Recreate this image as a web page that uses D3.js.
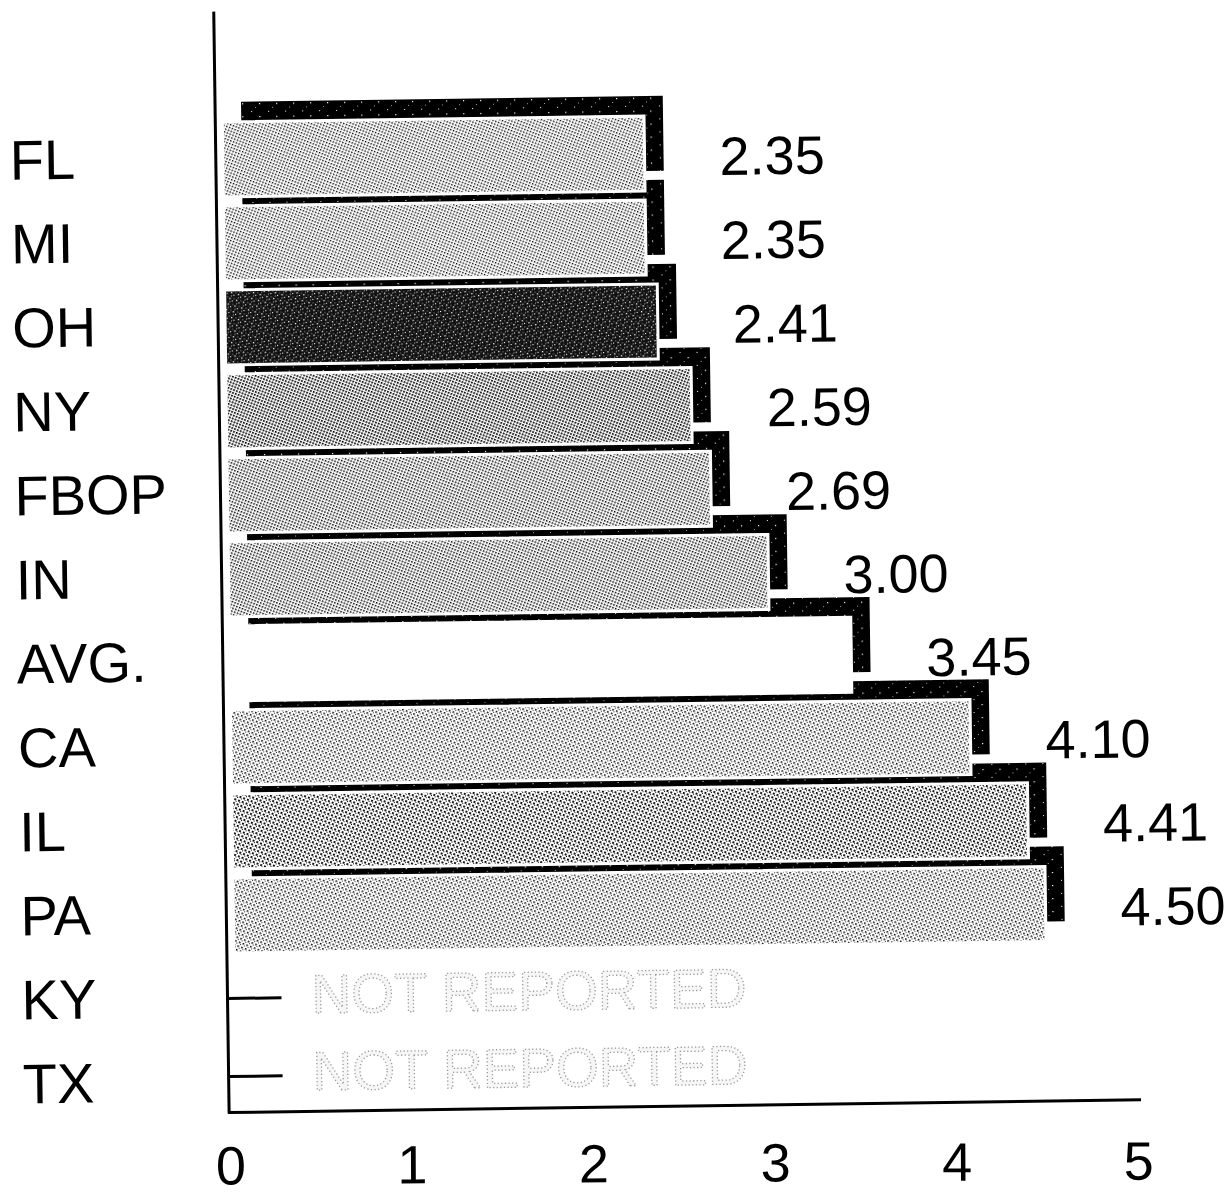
<!DOCTYPE html>
<html><head><meta charset="utf-8">
<script src="https://cdn.jsdelivr.net/npm/d3@7/dist/d3.min.js"></script>
<style>body{margin:0;background:#fff;overflow:hidden}</style>
</head><body><div id="chart"></div>
<script>
// ---- data ----
const categories = ["FL","MI","OH","NY","FBOP","IN","AVG.","CA","IL","PA","KY","TX"];
const values = [2.35, 2.35, 2.41, 2.59, 2.69, 3.00, 3.45, 4.10, 4.41, 4.50, null, null];
const valueLabels = ["2.35","2.35","2.41","2.59","2.69","3.00","3.45","4.10","4.41","4.50", null, null];
const tickValues = [0, 1, 2, 3, 4, 5];
const missingText = "NOT REPORTED";

// ---- styling (not data) ----
const shadeOf = {"FL":"light","MI":"light","OH":"dark","NY":"mid","FBOP":"lightmid","IN":"lightmid",
                 "AVG.":"white","CA":"coarse","IL":"midcoarse","PA":"coarse"};
const FONT = "'Liberation Sans', Arial, Helvetica, sans-serif";

const W = 1230, H = 1198;
const svg = d3.select("#chart").append("svg").attr("width", W).attr("height", H);
const defs = svg.append("defs");

function dotPattern(id, size, dot, angle, bg, fg, extra) {
  const p = defs.append("pattern").attr("id", id).attr("patternUnits", "userSpaceOnUse")
    .attr("width", size).attr("height", size).attr("patternTransform", `rotate(${angle})`);
  p.append("rect").attr("width", size).attr("height", size).attr("fill", bg);
  p.append("rect").attr("x", 0).attr("y", 0).attr("width", dot).attr("height", dot).attr("fill", fg);
  if (extra) p.append("rect").attr("x", size/2).attr("y", size/2).attr("width", extra).attr("height", extra).attr("fill", fg);
}
dotPattern("p-light", 3, 1.45, 22, "#fff", "#000");
dotPattern("p-lightmid", 3, 1.55, 22, "#fff", "#000");
dotPattern("p-mid", 3, 1.75, 22, "#fff", "#000");
dotPattern("p-coarse", 4, 1.6, 22, "#fff", "#000", 0.9);
dotPattern("p-midcoarse", 4, 1.9, 22, "#fff", "#000", 1.0);
// dark speckled
(function(){
  const p = defs.append("pattern").attr("id", "p-dark").attr("patternUnits", "userSpaceOnUse")
    .attr("width", 7).attr("height", 6).attr("patternTransform", "rotate(17)");
  p.append("rect").attr("width", 7).attr("height", 6).attr("fill", "#111");
  [[1,1,1.3],[4,3,1.1],[2,4.5,0.9],[5.5,0.5,0.8]].forEach(d =>
    p.append("rect").attr("x", d[0]).attr("y", d[1]).attr("width", d[2]).attr("height", d[2]).attr("fill", "#fff"));
})();
// shadow: black with sparse white specks
(function(){
  const p = defs.append("pattern").attr("id", "p-shadow").attr("patternUnits", "userSpaceOnUse")
    .attr("width", 17).attr("height", 13);
  p.append("rect").attr("width", 17).attr("height", 13).attr("fill", "#000");
  [[3,2,1],[11,7,1.2],[7,11,0.8]].forEach(d =>
    p.append("rect").attr("x", d[0]).attr("y", d[1]).attr("width", d[2]).attr("height", d[2]).attr("fill", "#fff"));
})();

const fillOf = c => shadeOf[c] === "white" ? "#fff" : `url(#p-${shadeOf[c]})`;

// whole chart slightly rotated like the scanned original
const g = svg.append("g").attr("transform", "rotate(-0.8 620 600)");

const x = d3.scaleLinear().domain([0, 5]).range([224, 1132]);
const y = d3.scaleBand().domain(categories).range([112, 1120]).padding(0);
const barH = 75, barX0 = 229, shX = 19, shY = -20;

const rows = categories.map((c, i) => ({c, v: values[i], label: valueLabels[i]}));
const barRows = rows.filter(d => d.v != null).reverse();   // draw bottom-up so upper bars overlap lower shadows

const barG = g.append("g").selectAll("g").data(barRows).join("g");
barG.append("rect")
  .attr("x", barX0 + shX)
  .attr("y", d => y(d.c) + (y.bandwidth() - barH) / 2 + shY)
  .attr("width", d => x(d.v) - barX0)
  .attr("height", barH)
  .attr("fill", "url(#p-shadow)");
barG.append("rect")
  .attr("x", barX0)
  .attr("y", d => y(d.c) + (y.bandwidth() - barH) / 2)
  .attr("width", d => x(d.v) - barX0)
  .attr("height", barH)
  .attr("fill", d => fillOf(d.c))
  .attr("stroke", "#fff").attr("stroke-width", 3);

// value labels
g.append("g").selectAll("text").data(rows.filter(d => d.v != null)).join("text")
  .attr("x", d => x(d.v) + 75)
  .attr("y", d => y(d.c) + y.bandwidth() / 2 + 3)
  .attr("dy", "0.36em")
  .attr("font-family", FONT).attr("font-size", 54).attr("fill", "#000")
  .text(d => d.label);

// not reported rows
const miss = rows.filter(d => d.v == null);
g.append("g").selectAll("line").data(miss).join("line")
  .attr("x1", 222).attr("x2", 276)
  .attr("y1", (d, i) => y(d.c) + y.bandwidth() / 2 - 1 - i * 6)
  .attr("y2", (d, i) => y(d.c) + y.bandwidth() / 2 - 1 - i * 6)
  .attr("stroke", "#000").attr("stroke-width", 3);
g.append("g").selectAll("text").data(miss).join("text")
  .attr("x", 306)
  .attr("y", (d, i) => y(d.c) + y.bandwidth() / 2 - 5 - i * 7)
  .attr("dy", "0.36em")
  .attr("font-family", FONT).attr("font-size", 55)
  .attr("fill", "#f6f6f6").attr("stroke", "#999").attr("stroke-width", 1.3)
  .attr("stroke-dasharray", "1.2 2.4")
  .text(missingText);

// category labels
g.append("g").selectAll("text").data(categories).join("text")
  .attr("x", 16)
  .attr("y", c => y(c) + y.bandwidth() / 2 - 3)
  .attr("dy", "0.36em")
  .attr("font-family", FONT).attr("font-size", 56).attr("fill", "#000")
  .text(c => c);

// axes
g.append("line").attr("x1", 222).attr("x2", 222).attr("y1", 6).attr("y2", 1108)
  .attr("stroke", "#000").attr("stroke-width", 3);
g.append("line").attr("x1", 221).attr("x2", 1134).attr("y1", 1107).attr("y2", 1107)
  .attr("stroke", "#000").attr("stroke-width", 3);

// tick labels (less tilted in the original)
const xAxis = svg.append("g").attr("transform", "rotate(-0.3 620 1108) translate(6,1108)")
  .call(d3.axisBottom(x).tickValues(tickValues).tickSize(0).tickPadding(36).tickFormat(d3.format("d")));
xAxis.select(".domain").remove();
xAxis.selectAll("text").attr("font-family", FONT).attr("font-size", 54).attr("fill", "#000");
</script>
</body></html>
